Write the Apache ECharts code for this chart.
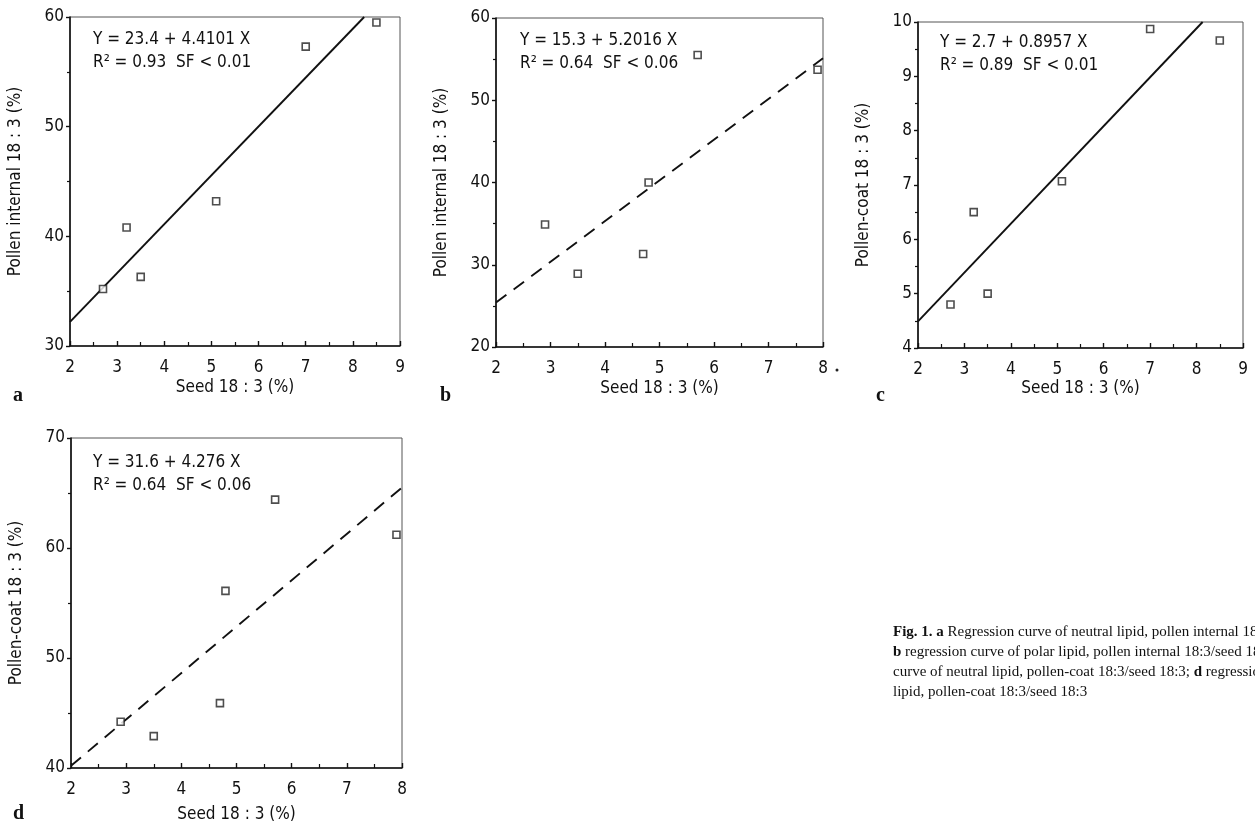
<!DOCTYPE html>
<html>
<head>
<meta charset="utf-8">
<title>Fig. 1 regression curves</title>
<script src="https://cdn.jsdelivr.net/npm/echarts@6/dist/echarts.min.js"></script>
<style>
  html, body { margin: 0; padding: 0; background: #fff; }
  #chart { width: 1255px; height: 830px; }
</style>
</head>
<body>
<div id="chart"></div>
<script>
// seed 18:3 (%) for the neutral lipid panels (a, c) and polar lipid panels (b, d)
const seedNeutral = [2.7, 3.2, 3.5, 5.1, 7.0, 8.5];
const seedPolar = [2.9, 3.5, 4.7, 4.8, 5.7, 7.9];

// pollen values
const internalNeutral = [35.2, 40.8, 36.3, 43.2, 57.3, 59.5];  // a
const internalPolar = [34.9, 28.9, 31.3, 40.0, 55.5, 53.7];    // b
const coatNeutral = [4.8, 6.5, 5.0, 7.07, 9.87, 9.66];         // c
const coatPolar = [44.2, 42.9, 45.9, 56.1, 64.4, 61.2];        // d

// regression lines, end points as drawn
const fitA = [[2, 32.2], [8.24, 60]];
const fitB = [[2, 25.4], [8, 55.1]];
const fitC = [[2, 4.49], [8.13, 10]];
const fitD = [[2, 40.2], [8, 65.5]];

const eqA = ['Y = 23.4 + 4.4101 X', 'R² = 0.93  SF < 0.01'];
const eqB = ['Y = 15.3 + 5.2016 X', 'R² = 0.64  SF < 0.06'];
const eqC = ['Y = 2.7 + 0.8957 X', 'R² = 0.89  SF < 0.01'];
const eqD = ['Y = 31.6 + 4.276 X', 'R² = 0.64  SF < 0.06'];

const NARROW = '"DejaVu Sans Condensed", "Liberation Sans Narrow", "DejaVu Sans", sans-serif';
const SERIF = '"Liberation Serif", "DejaVu Serif", serif';

const panels = [
  { grid: { left: 70, top: 17, width: 330, height: 329 }, x: [2, 9], y: [30, 60, 10], yName: 'Pollen internal 18 : 3 (%)', pts: [seedNeutral, internalNeutral], fit: fitA, dashed: false, eq: eqA, eqPos: [93, 28], nameGap: 33, letter: ['a', 13, 386] },
  { grid: { left: 496, top: 18, width: 327, height: 329 }, x: [2, 8], y: [20, 60, 10], yName: 'Pollen internal 18 : 3 (%)', pts: [seedPolar, internalPolar], fit: fitB, dashed: true, eq: eqB, eqPos: [520, 29], nameGap: 33, letter: ['b', 440, 386] },
  { grid: { left: 918, top: 22, width: 325, height: 326 }, x: [2, 9], y: [4, 10, 1], yName: 'Pollen-coat 18 : 3 (%)', pts: [seedNeutral, coatNeutral], fit: fitC, dashed: false, eq: eqC, eqPos: [940, 31], nameGap: 32, letter: ['c', 876, 386] },
  { grid: { left: 71, top: 438, width: 331, height: 330 }, x: [2, 8], y: [40, 70, 10], yName: 'Pollen-coat 18 : 3 (%)', pts: [seedPolar, coatPolar], fit: fitD, dashed: true, eq: eqD, eqPos: [93, 451], nameGap: 38, letter: ['d', 13, 804] }
];

const grid = [], xAxis = [], yAxis = [], series = [], graphic = [];

panels.forEach((p, i) => {
  grid.push(Object.assign({ show: true, borderColor: '#555', borderWidth: 1, backgroundColor: 'transparent' }, p.grid));

  xAxis.push({
    type: 'value', gridIndex: i, min: p.x[0], max: p.x[1], interval: 1,
    name: 'Seed 18 : 3 (%)', nameLocation: 'middle', nameGap: p.nameGap,
    nameTextStyle: { fontFamily: NARROW, fontSize: 17, color: '#111' },
    axisLine: { onZero: false, lineStyle: { color: '#111', width: 1.6 } },
    axisTick: { inside: true, length: 5, lineStyle: { color: '#111', width: 1.4 } },
    minorTick: { show: true, splitNumber: 2, length: 4, lineStyle: { color: '#111', width: 1.2 } },
    axisLabel: { margin: 13, fontFamily: NARROW, fontSize: 17, color: '#111' },
    splitLine: { show: false }
  });

  yAxis.push({
    type: 'value', gridIndex: i, min: p.y[0], max: p.y[1], interval: p.y[2],
    name: p.yName, nameLocation: 'middle', nameGap: 46,
    nameTextStyle: { fontFamily: NARROW, fontSize: 17, color: '#111' },
    axisLine: { onZero: false, lineStyle: { color: '#111', width: 1.6 } },
    axisTick: { inside: false, length: 4, lineStyle: { color: '#111', width: 1.4 } },
    minorTick: { show: true, splitNumber: 2, length: 3, lineStyle: { color: '#111', width: 1.2 } },
    axisLabel: { margin: 6, fontFamily: NARROW, fontSize: 17, color: '#111' },
    splitLine: { show: false }
  });

  series.push({
    type: 'line', xAxisIndex: i, yAxisIndex: i, data: p.fit,
    showSymbol: false, silent: true, z: 2,
    lineStyle: { color: '#111', width: 1.9, type: p.dashed ? [13, 9] : 'solid' }
  });

  series.push({
    type: 'scatter', xAxisIndex: i, yAxisIndex: i,
    data: p.pts[0].map((x, k) => [x, p.pts[1][k]]),
    symbol: 'rect', symbolSize: 7, z: 3,
    itemStyle: { color: '#fff', borderColor: '#222', borderWidth: 1.6 }
  });

  // equation block
  graphic.push({
    type: 'text', left: p.eqPos[0], top: p.eqPos[1],
    style: { text: p.eq.join('\n'), fontFamily: NARROW, fontSize: 17, lineHeight: 23, fill: '#111' }
  });

  // panel letter
  graphic.push({
    type: 'text', left: p.letter[1], top: p.letter[2],
    style: { text: p.letter[0], fontFamily: SERIF, fontWeight: 'bold', fontSize: 20, fill: '#111' }
  });
});

// small stray dot after the last tick of panel b
graphic.push({ type: 'circle', shape: { cx: 837, cy: 370, r: 1.5 }, style: { fill: '#222' } });

// figure caption (runs off the right edge as in the scan)
const captionLines = [
  '{b|Fig. 1.} {b|a} Regression curve of neutral lipid, pollen internal 18:3/seed 18:3;',
  '{b|b} regression curve of polar lipid, pollen internal 18:3/seed 18:3; {b|c} regression',
  'curve of neutral lipid, pollen-coat 18:3/seed 18:3; {b|d} regression curve of polar',
  'lipid, pollen-coat 18:3/seed 18:3'
];
graphic.push({
  type: 'text', left: 893, top: 622,
  style: {
    text: captionLines.join('\n'), fontFamily: SERIF, fontSize: 15, lineHeight: 20, fill: '#111',
    rich: { b: { fontFamily: SERIF, fontWeight: 'bold', fontSize: 15, lineHeight: 20, fill: '#111' } }
  }
});

const chart = echarts.init(document.getElementById('chart'), null, { renderer: 'canvas' });
chart.setOption({
  backgroundColor: '#fff',
  animation: false,
  grid, xAxis, yAxis, series, graphic
});
</script>
</body>
</html>
